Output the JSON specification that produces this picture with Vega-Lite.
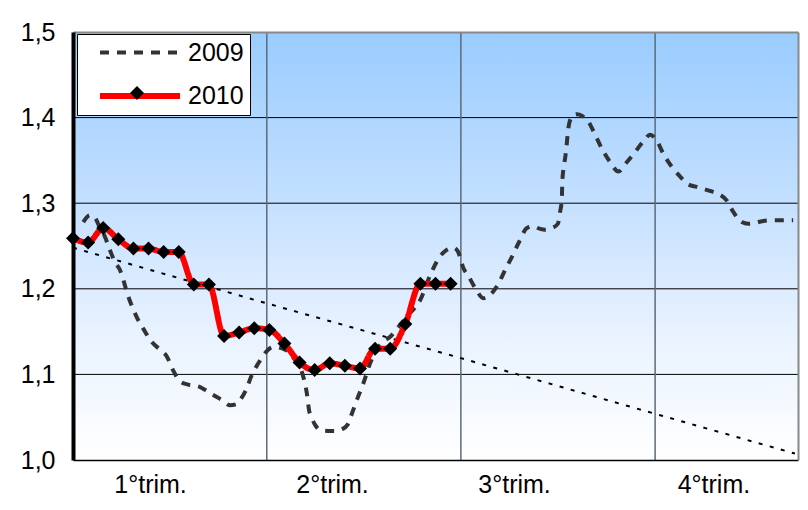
{
  "$schema": "https://vega.github.io/schema/vega-lite/v6.json",
  "width": 725,
  "height": 428,
  "autosize": {"type": "none"},
  "padding": {"left": 73, "top": 32, "right": 10, "bottom": 50},
  "background": "white",
  "config": {
    "font": "Liberation Sans",
    "view": {"stroke": null},
    "axis": {"labelFont": "Liberation Sans", "labelFontSize": 25, "labelColor": "black", "title": null}
  },
  "datasets": {
    "bg": [{"panel": "plot"}],
    "hgrid": [{"level": 1.1}, {"level": 1.2}, {"level": 1.3}, {"level": 1.4}],
    "vgrid": [{"boundary": 12.83}, {"boundary": 25.68}, {"boundary": 38.54}],
    "trend": [
      {"week": 0, "value": 1.248},
      {"week": 12.83, "value": 1.183},
      {"week": 25.68, "value": 1.119},
      {"week": 38.54, "value": 1.054},
      {"week": 47.8, "value": 1.0075}
    ],
    "series": [
      {"series": "2009", "week": 0.68, "value": 1.278},
      {"series": "2009", "week": 1.13, "value": 1.286},
      {"series": "2009", "week": 1.46, "value": 1.283},
      {"series": "2009", "week": 1.79, "value": 1.271},
      {"series": "2009", "week": 2.01, "value": 1.265},
      {"series": "2009", "week": 2.45, "value": 1.245},
      {"series": "2009", "week": 2.78, "value": 1.231},
      {"series": "2009", "week": 3.11, "value": 1.222},
      {"series": "2009", "week": 3.66, "value": 1.191},
      {"series": "2009", "week": 4.22, "value": 1.167},
      {"series": "2009", "week": 4.70, "value": 1.152},
      {"series": "2009", "week": 5.21, "value": 1.138},
      {"series": "2009", "week": 5.76, "value": 1.129},
      {"series": "2009", "week": 6.21, "value": 1.121},
      {"series": "2009", "week": 6.62, "value": 1.105},
      {"series": "2009", "week": 7.09, "value": 1.092},
      {"series": "2009", "week": 7.62, "value": 1.088},
      {"series": "2009", "week": 8.30, "value": 1.086},
      {"series": "2009", "week": 8.74, "value": 1.082},
      {"series": "2009", "week": 9.29, "value": 1.076},
      {"series": "2009", "week": 9.87, "value": 1.070},
      {"series": "2009", "week": 10.40, "value": 1.064},
      {"series": "2009", "week": 10.79, "value": 1.065},
      {"series": "2009", "week": 11.06, "value": 1.070},
      {"series": "2009", "week": 11.46, "value": 1.082},
      {"series": "2009", "week": 11.83, "value": 1.099},
      {"series": "2009", "week": 12.27, "value": 1.113},
      {"series": "2009", "week": 12.72, "value": 1.125},
      {"series": "2009", "week": 13.26, "value": 1.132},
      {"series": "2009", "week": 14.04, "value": 1.129},
      {"series": "2009", "week": 14.70, "value": 1.117},
      {"series": "2009", "week": 15.15, "value": 1.103},
      {"series": "2009", "week": 15.48, "value": 1.078},
      {"series": "2009", "week": 15.63, "value": 1.058},
      {"series": "2009", "week": 15.81, "value": 1.049},
      {"series": "2009", "week": 16.03, "value": 1.041},
      {"series": "2009", "week": 16.36, "value": 1.035},
      {"series": "2009", "week": 16.89, "value": 1.034},
      {"series": "2009", "week": 17.35, "value": 1.034},
      {"series": "2009", "week": 17.81, "value": 1.036},
      {"series": "2009", "week": 18.17, "value": 1.041},
      {"series": "2009", "week": 18.48, "value": 1.055},
      {"series": "2009", "week": 18.79, "value": 1.070},
      {"series": "2009", "week": 19.23, "value": 1.090},
      {"series": "2009", "week": 19.67, "value": 1.113},
      {"series": "2009", "week": 20.11, "value": 1.129},
      {"series": "2009", "week": 20.53, "value": 1.138},
      {"series": "2009", "week": 21.00, "value": 1.144},
      {"series": "2009", "week": 21.66, "value": 1.158},
      {"series": "2009", "week": 22.32, "value": 1.172},
      {"series": "2009", "week": 22.87, "value": 1.183},
      {"series": "2009", "week": 23.75, "value": 1.220},
      {"series": "2009", "week": 24.19, "value": 1.235},
      {"series": "2009", "week": 24.70, "value": 1.245},
      {"series": "2009", "week": 25.19, "value": 1.248},
      {"series": "2009", "week": 25.50, "value": 1.243},
      {"series": "2009", "week": 25.85, "value": 1.224},
      {"series": "2009", "week": 26.18, "value": 1.215},
      {"series": "2009", "week": 26.69, "value": 1.199},
      {"series": "2009", "week": 27.17, "value": 1.189},
      {"series": "2009", "week": 27.62, "value": 1.193},
      {"series": "2009", "week": 28.17, "value": 1.206},
      {"series": "2009", "week": 28.61, "value": 1.222},
      {"series": "2009", "week": 29.05, "value": 1.237},
      {"series": "2009", "week": 29.54, "value": 1.255},
      {"series": "2009", "week": 30.05, "value": 1.271},
      {"series": "2009", "week": 30.48, "value": 1.273},
      {"series": "2009", "week": 30.93, "value": 1.270},
      {"series": "2009", "week": 31.26, "value": 1.269},
      {"series": "2009", "week": 31.72, "value": 1.271},
      {"series": "2009", "week": 32.10, "value": 1.276},
      {"series": "2009", "week": 32.25, "value": 1.290},
      {"series": "2009", "week": 32.36, "value": 1.304},
      {"series": "2009", "week": 32.40, "value": 1.327},
      {"series": "2009", "week": 32.52, "value": 1.345},
      {"series": "2009", "week": 32.63, "value": 1.359},
      {"series": "2009", "week": 32.80, "value": 1.388},
      {"series": "2009", "week": 32.91, "value": 1.397},
      {"series": "2009", "week": 33.13, "value": 1.403},
      {"series": "2009", "week": 33.36, "value": 1.404},
      {"series": "2009", "week": 33.71, "value": 1.402},
      {"series": "2009", "week": 34.13, "value": 1.395},
      {"series": "2009", "week": 34.57, "value": 1.380},
      {"series": "2009", "week": 35.01, "value": 1.364},
      {"series": "2009", "week": 35.56, "value": 1.348},
      {"series": "2009", "week": 36.11, "value": 1.337},
      {"series": "2009", "week": 36.62, "value": 1.347},
      {"series": "2009", "week": 37.22, "value": 1.360},
      {"series": "2009", "week": 37.75, "value": 1.372},
      {"series": "2009", "week": 38.21, "value": 1.380},
      {"series": "2009", "week": 38.61, "value": 1.374},
      {"series": "2009", "week": 39.14, "value": 1.356},
      {"series": "2009", "week": 39.67, "value": 1.342},
      {"series": "2009", "week": 40.20, "value": 1.331},
      {"series": "2009", "week": 40.73, "value": 1.322},
      {"series": "2009", "week": 41.30, "value": 1.319},
      {"series": "2009", "week": 42.23, "value": 1.314},
      {"series": "2009", "week": 42.72, "value": 1.311},
      {"series": "2009", "week": 43.29, "value": 1.303},
      {"series": "2009", "week": 43.71, "value": 1.290},
      {"series": "2009", "week": 44.28, "value": 1.278},
      {"series": "2009", "week": 44.70, "value": 1.276},
      {"series": "2009", "week": 45.17, "value": 1.277},
      {"series": "2009", "week": 45.63, "value": 1.279},
      {"series": "2009", "week": 46.16, "value": 1.280},
      {"series": "2009", "week": 47.26, "value": 1.280},
      {"series": "2009", "week": 47.68, "value": 1.280},
      {"series": "2010", "week": 0, "value": 1.259},
      {"series": "2010", "week": 1, "value": 1.254},
      {"series": "2010", "week": 2, "value": 1.271},
      {"series": "2010", "week": 3, "value": 1.258},
      {"series": "2010", "week": 4, "value": 1.247},
      {"series": "2010", "week": 5, "value": 1.247},
      {"series": "2010", "week": 6, "value": 1.243},
      {"series": "2010", "week": 7, "value": 1.243},
      {"series": "2010", "week": 8, "value": 1.205},
      {"series": "2010", "week": 9, "value": 1.205},
      {"series": "2010", "week": 10, "value": 1.145},
      {"series": "2010", "week": 11, "value": 1.149},
      {"series": "2010", "week": 12, "value": 1.154},
      {"series": "2010", "week": 13, "value": 1.152},
      {"series": "2010", "week": 14, "value": 1.136},
      {"series": "2010", "week": 15, "value": 1.114},
      {"series": "2010", "week": 16, "value": 1.105},
      {"series": "2010", "week": 17, "value": 1.113},
      {"series": "2010", "week": 18, "value": 1.110},
      {"series": "2010", "week": 19, "value": 1.107},
      {"series": "2010", "week": 20, "value": 1.130},
      {"series": "2010", "week": 21, "value": 1.130},
      {"series": "2010", "week": 22, "value": 1.159},
      {"series": "2010", "week": 23, "value": 1.206},
      {"series": "2010", "week": 24, "value": 1.206},
      {"series": "2010", "week": 25, "value": 1.206}
    ]
  },
  "layer": [
    {
      "data": {"name": "bg"},
      "mark": {"type": "rect", "color": {"gradient": "linear", "x1": 0, "y1": 0, "x2": 0, "y2": 1,
        "stops": [{"offset": 0, "color": "#99CCFF"}, {"offset": 0.4, "color": "#C4E0FF"}, {"offset": 0.7, "color": "#E8F2FF"}, {"offset": 1, "color": "#FFFFFF"}]}},
      "encoding": {}
    },
    {
      "data": {"name": "hgrid"},
      "mark": {"type": "rule", "color": "black", "strokeWidth": 1},
      "encoding": {"y": {"field": "level", "type": "quantitative", "axis": null}}
    },
    {
      "data": {"name": "vgrid"},
      "mark": {"type": "rule", "color": "#5c6b7a", "strokeWidth": 1.5},
      "encoding": {"x": {"field": "boundary", "type": "quantitative", "axis": null}}
    },
    {
      "data": {"name": "trend"},
      "mark": {"type": "line", "color": "black", "strokeWidth": 2, "strokeDash": [4, 7.5], "clip": true},
      "encoding": {
        "x": {"field": "week", "type": "quantitative", "scale": {"domain": [0, 48], "nice": false, "zero": false},
          "axis": {"orient": "top", "labels": false, "ticks": false, "grid": false, "domainColor": "#888888", "domainWidth": 2, "title": null, "zindex": 1}},
        "y": {"field": "value", "type": "quantitative", "scale": {"domain": [1.0, 1.5], "nice": false, "zero": false},
          "axis": {"orient": "right", "labels": false, "ticks": false, "grid": false, "domainColor": "#888888", "domainWidth": 2, "title": null, "zindex": 1}}
      }
    },
    {
      "data": {"name": "series"},
      "mark": {"type": "line", "interpolate": "monotone", "clip": true},
      "encoding": {
        "x": {"field": "week", "type": "quantitative",
          "axis": {"orient": "bottom", "values": [5.1, 17.15, 29.2, 42.4], "labelExpr": "datum.value < 10 ? '1°trim.' : datum.value < 20 ? '2°trim.' : datum.value < 35 ? '3°trim.' : '4°trim.'", "grid": false, "ticks": false, "domainColor": "black", "domainWidth": 1.5, "labelPadding": 12, "labelFlush": false, "title": null, "zindex": 1}},
        "y": {"field": "value", "type": "quantitative",
          "axis": {"orient": "left", "values": [1.0, 1.1, 1.2, 1.3, 1.4, 1.5], "labelExpr": "replace(format(datum.value, '.1f'), '.', ',')", "grid": false, "ticks": false, "domainColor": "black", "domainWidth": 4, "labelPadding": 18, "title": null, "zindex": 1}},
        "color": {"field": "series", "type": "nominal", "scale": {"domain": ["2009", "2010"], "range": ["#333333", "#FF0000"]},
          "legend": {"title": null, "orient": "none", "legendX": 4, "legendY": 2, "padding": 6, "fillColor": "white", "strokeColor": "black", "symbolType": "M-4,0H4", "symbolSize": 400, "symbolOffset": 44, "labelOffset": 35, "rowPadding": 17, "labelFontSize": 25, "labelFont": "Liberation Sans", "labelColor": "black", "labelExpr": "datum.label + '\u00a0'"}},
        "strokeDash": {"field": "series", "type": "nominal", "scale": {"domain": ["2009", "2010"], "range": [[9, 8], [1, 0]]},
          "legend": {"title": null, "orient": "none", "legendX": 4, "legendY": 2, "padding": 6, "fillColor": "white", "strokeColor": "black", "symbolType": "M-4,0H4", "symbolSize": 400, "symbolOffset": 44, "labelOffset": 35, "rowPadding": 17, "labelFontSize": 25, "labelFont": "Liberation Sans", "labelColor": "black", "labelExpr": "datum.label + '\u00a0'"}},
        "strokeWidth": {"field": "series", "type": "nominal", "scale": {"domain": ["2009", "2010"], "range": [4, 6]},
          "legend": {"title": null, "orient": "none", "legendX": 4, "legendY": 2, "padding": 6, "fillColor": "white", "strokeColor": "black", "symbolType": "M-4,0H4", "symbolSize": 400, "symbolOffset": 44, "labelOffset": 35, "rowPadding": 17, "labelFontSize": 25, "labelFont": "Liberation Sans", "labelColor": "black", "labelExpr": "datum.label + '\u00a0'"}}
      }
    },
    {
      "data": {"name": "series"},
      "transform": [{"filter": "datum.series === '2010'"}],
      "mark": {"type": "point", "filled": true, "color": "black", "opacity": 1, "size": 196},
      "encoding": {
        "x": {"field": "week", "type": "quantitative", "axis": null},
        "y": {"field": "value", "type": "quantitative", "axis": null},
        "shape": {"field": "series", "type": "nominal", "scale": {"domain": ["2010"], "range": ["diamond"]},
          "legend": {"title": null, "orient": "none", "legendX": 56, "legendY": 53, "padding": 0, "symbolSize": 196, "symbolFillColor": "black", "symbolStrokeColor": "black", "labelExpr": "''", "labelFontSize": 1, "fillColor": null, "strokeColor": null}}
      }
    }
  ],
  "resolve": {"scale": {"x": "shared", "y": "shared"}, "axis": {"x": "independent", "y": "independent"}}
}
